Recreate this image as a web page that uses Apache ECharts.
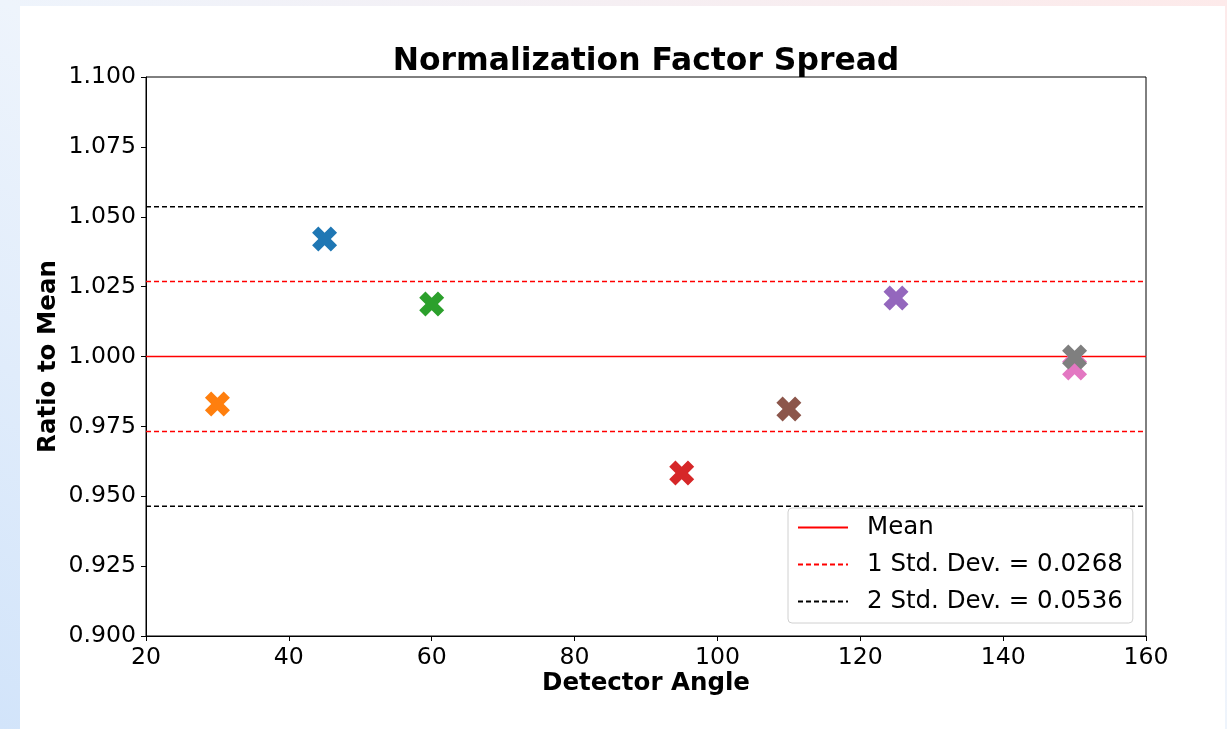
<!DOCTYPE html>
<html>
<head>
<meta charset="utf-8">
<script src="https://cdn.jsdelivr.net/npm/echarts@6/dist/echarts.min.js"></script>
<style>
  html, body { margin: 0; padding: 0; width: 1227px; height: 729px; overflow: hidden; }
  body { background: linear-gradient(to top right, #d2e4fa 0%, #eef4fc 50%, #fdeaea 100%); position: relative; }
  #card { position: absolute; left: 20px; top: 6px; width: 1205px; height: 723px; background: #ffffff; }
  #chart { position: absolute; left: 0; top: 0; width: 1227px; height: 729px; }
</style>
</head>
<body>
<div id="card"></div>
<div id="chart"></div>
<script>
// ---- data ----
const detectorAngles = [45, 30, 60, 95, 125, 110, 150, 150];
const ratioToMean   = [1.0420, 0.9830, 1.0188, 0.9583, 1.0209, 0.9812, 0.9959, 0.9998];
const meanValue = 1.000;
const stdDev = 0.0268;
const xTicks = { min: 20, max: 160, interval: 20 };
const yTicks = { min: 0.9, max: 1.1, interval: 0.025 };
const legendLabels = ['Mean', '1 Std. Dev. = 0.0268', '2 Std. Dev. = 0.0536'];
const titleText = 'Normalization Factor Spread';
const xLabel = 'Detector Angle';
const yLabel = 'Ratio to Mean';

// ---- styles ----
const pointColors = ['#1f77b4', '#ff7f0e', '#2ca02c', '#d62728', '#9467bd', '#8c564b', '#e377c2', '#7f7f7f'];
const FONT = 'DejaVu Sans';
const X_MARKER = 'path://M3,2L4,3L3,4L2,3L1,4L0,3L1,2L0,1L1,0L2,1L3,0L4,1Z';

const hline = (y) => [[xTicks.min, y], [xTicks.max, y]];

const chart = echarts.init(document.getElementById('chart'), null, { renderer: 'canvas' });
chart.setOption({
  animation: false,
  backgroundColor: 'transparent',
  title: {
    text: titleText,
    left: 641,
    top: 41,
    textAlign: 'center',
    textStyle: { fontFamily: FONT, fontWeight: 'bold', fontSize: 31.4, color: '#000' }
  },
  grid: { left: 146, right: 81, top: 77, bottom: 93, show: true, borderColor: '#000', borderWidth: 1, backgroundColor: 'transparent', containLabel: false },
  xAxis: {
    type: 'value', min: xTicks.min, max: xTicks.max, interval: xTicks.interval,
    name: xLabel, nameLocation: 'middle', nameGap: 35, nameMoveOverlap: false,
    nameTextStyle: { fontFamily: FONT, fontWeight: 'bold', fontSize: 24.5, color: '#000' },
    axisLine: { show: true, onZero: false, lineStyle: { color: '#000', width: 1 } },
    axisTick: { show: true, inside: false, length: 5, lineStyle: { color: '#000' } },
    axisLabel: { fontFamily: FONT, fontSize: 23.6, color: '#000', margin: 10 },
    splitLine: { show: false }
  },
  yAxis: {
    type: 'value', min: yTicks.min, max: yTicks.max, interval: yTicks.interval,
    name: yLabel, nameLocation: 'middle', nameGap: 85, nameRotate: 90, nameMoveOverlap: false,
    nameTextStyle: { fontFamily: FONT, fontWeight: 'bold', fontSize: 24.5, color: '#000' },
    axisLine: { show: true, onZero: false, lineStyle: { color: '#000', width: 1 } },
    axisTick: { show: true, inside: false, length: 5, lineStyle: { color: '#000' } },
    axisLabel: { fontFamily: FONT, fontSize: 23.6, color: '#000', margin: 10, formatter: v => v.toFixed(3) },
    splitLine: { show: false }
  },
  legend: {
    data: legendLabels,
    orient: 'vertical',
    left: 788, top: 508,
    padding: [7, 10, 9, 9],
    itemWidth: 50, itemHeight: 14, itemGap: 12,
    itemStyle: { opacity: 0 },
    backgroundColor: 'rgba(255,255,255,0.8)',
    borderColor: '#d0d0d0', borderWidth: 1, borderRadius: 4,
    textStyle: { fontFamily: FONT, fontSize: 24.5, color: '#000', lineHeight: 24, padding: [0, 0, 0, 14] }
  },
  series: [
    {
      type: 'scatter', name: 'points', symbol: X_MARKER, symbolSize: 25,
      data: detectorAngles.map((a, i) => ({ value: [a, ratioToMean[i]], itemStyle: { color: pointColors[i], opacity: 1 } })),
      itemStyle: { opacity: 1 },
      z: 5
    },
    {
      type: 'line', name: legendLabels[0], data: hline(meanValue), symbol: 'none', showSymbol: false,
      lineStyle: { color: '#ff0000', width: 1.5, type: 'solid' }, itemStyle: { color: '#ff0000' }, z: 3
    },
    {
      type: 'line', name: legendLabels[1], data: hline(meanValue + stdDev), symbol: 'none', showSymbol: false,
      lineStyle: { color: '#ff0000', width: 1.5, type: [5, 3] }, itemStyle: { color: '#ff0000' }, z: 3
    },
    {
      type: 'line', name: legendLabels[2], data: hline(meanValue + 2 * stdDev), symbol: 'none', showSymbol: false,
      lineStyle: { color: '#000000', width: 1.5, type: [5, 3] }, itemStyle: { color: '#000000' }, z: 3
    },
    {
      type: 'line', name: legendLabels[1], data: hline(meanValue - stdDev), symbol: 'none', showSymbol: false,
      lineStyle: { color: '#ff0000', width: 1.5, type: [5, 3] }, itemStyle: { color: '#ff0000' }, z: 3
    },
    {
      type: 'line', name: legendLabels[2], data: hline(meanValue - 2 * stdDev), symbol: 'none', showSymbol: false,
      lineStyle: { color: '#000000', width: 1.5, type: [5, 3] }, itemStyle: { color: '#000000' }, z: 3
    }
  ]
});
</script>
</body>
</html>
